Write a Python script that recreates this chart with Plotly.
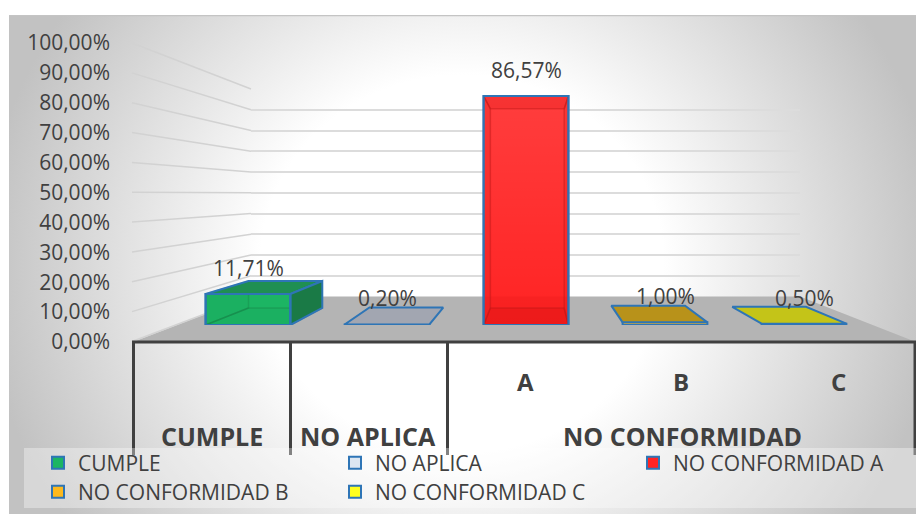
import plotly.graph_objects as go

# ---------- data ----------
categories = ["CUMPLE", "NO APLICA", "NO CONFORMIDAD A", "NO CONFORMIDAD B", "NO CONFORMIDAD C"]
values = [11.71, 0.20, 86.57, 1.00, 0.50]
tick_values = [0, 10, 20, 30, 40, 50, 60, 70, 80, 90, 100]
sub_labels = ["A", "B", "C"]
group_labels = ["CUMPLE", "NO APLICA", "NO CONFORMIDAD"]

# ---------- styles ----------
legend_colors = ["#1cb563", "#dce6f1", "#ff2323", "#fdb91d", "#ffff1e"]
EDGE = "#2e75b6"
TEXT = "#404040"
FONT = "Open Sans"
W, H = 916, 514
fx = lambda p: p / W
fy = lambda p: 1 - p / H
pct = lambda v: f"{v:.2f}%".replace(".", ",")

fig = go.Figure()

# --- subplot 1: page-pixel frame of the 3-D chart (wall, floor, frame lines)
fig.add_trace(go.Scatter(
    x=[462 - 480, 462 + 480, 462 + 480, 462 - 480, 462 - 480],
    y=[264 - 450, 264 - 450, 264 + 450, 264 + 450, 264 - 450],
    mode="none", fill="toself", showlegend=False, hoverinfo="skip",
    fillgradient=dict(type="radial", colorscale=[[0, "#ffffff"], [0.42, "#ffffff"], [1, "#c2c2c2"]]),
    xaxis="x", yaxis="y"))
fig.add_trace(go.Scatter(x=[9, 916], y=[15.5, 15.5], mode="lines", line=dict(color="#c4c4c4", width=1.5),
                         showlegend=False, hoverinfo="skip", xaxis="x", yaxis="y"))
fig.add_trace(go.Scatter(
    x=[133, 251, 800, 916, 133], y=[342, 296.5, 296.5, 342, 342],
    mode="none", fill="toself", fillcolor="#b4b4b4",
    showlegend=False, hoverinfo="skip", xaxis="x", yaxis="y"))

side_x, side_y = [], []
for v in tick_values:
    side_x += [132, 251, None]
    side_y += [341.5 - 2.985 * v, 296.5 - 2.075 * v, None]
fig.add_trace(go.Scatter(x=side_x, y=side_y, mode="lines", line=dict(color="#d2d2d2", width=1.5),
                         showlegend=False, hoverinfo="skip", xaxis="x", yaxis="y"))
fig.add_trace(go.Scatter(
    x=[132, 916, None, 133.5, 133.5, None, 290.5, 290.5, None, 447.5, 447.5, None, 915, 915],
    y=[342, 342, None, 342, 455, None, 342, 455, None, 342, 455, None, 342, 455],
    mode="lines", line=dict(color="#404040", width=3),
    showlegend=False, hoverinfo="skip", xaxis="x", yaxis="y"))
fig.add_trace(go.Scatter(
    x=[24, 916, 916, 24, 24], y=[448, 448, 508, 508, 448],
    mode="none", fill="toself", fillcolor="rgba(255,255,255,0.35)",
    showlegend=False, hoverinfo="skip", xaxis="x", yaxis="y"))

# --- subplot 2: back wall gridlines
fig.add_trace(go.Scatter(x=[0, 1], y=[0, 100], mode="lines", line=dict(color="rgba(0,0,0,0)"),
                         showlegend=False, hoverinfo="skip", xaxis="x2", yaxis="y2"))
# --- subplot 3: value tick labels on the front edge of the side wall
fig.add_trace(go.Scatter(x=[0, 1], y=[0, 100], mode="lines", line=dict(color="rgba(0,0,0,0)"),
                         showlegend=False, hoverinfo="skip", xaxis="x3", yaxis="y3"))

# --- subplot 4: bars (front faces) and their projected 3-D faces
BAR_W = 0.61
K, VX, VY = 0.87, 2.07, 49.5
PX_PER_UNIT = 2.645
FLOOR_BACK = (325 - 296.5) / PX_PER_UNIT  # height on the bar scale where the floor's back edge shows through
back = lambda x, y: (VX + (x - VX) * K, VY + (y - VY) * K)

for i, (name, v, col) in enumerate(zip(categories, values, legend_colors)):
    fig.add_trace(go.Bar(
        x=[i], y=[v], name=name, width=BAR_W, marker=dict(color=col, line=dict(color=EDGE, width=2)),
        legend="legend" if i == 0 else f"legend{i + 1}", showlegend=True, hoverinfo="skip",
        xaxis="x4", yaxis="y4"))


def face(points, fill, line, width=2, gradient=None):
    xs = [p[0] for p in points] + [points[0][0]]
    ys = [p[1] for p in points] + [points[0][1]]
    extra = dict(fillgradient=gradient) if gradient else dict(fillcolor=fill)
    fig.add_trace(go.Scatter(x=xs, y=ys, mode="lines", fill="toself", line=dict(color=line, width=width),
                             showlegend=False, hoverinfo="skip", xaxis="x4", yaxis="y4", **extra))


top_fill = ["#1f8f52", "rgba(160,164,176,0.9)", "rgba(225,30,30,0.30)", "#b8921a", "#c4c418"]
side_fill = ["#1a7a46", None, "rgba(225,30,30,0.22)", None, None]
floor_fill = ["rgba(20,110,60,0.06)", None, "rgba(205,10,10,0.25)", None, None]
inner_line = ["rgba(20,110,60,0.28)", None, "rgba(190,25,25,0.45)", None, None]
sheen = [None, None, [[0, "rgba(255,255,255,0)"], [1, "rgba(255,255,255,0.12)"]], None, None]

for i, v in enumerate(values):
    xl, xr = i - BAR_W / 2, i + BAR_W / 2
    F = [(xl, 0), (xr, 0), (xr, v), (xl, v)]
    B = [back(*p) for p in F]
    if side_fill[i] is None:  # nearly flat column: only its top is seen
        face([F[3], F[2], B[2], B[3]], top_fill[i], EDGE)
        continue
    inner = inner_line[i]
    if sheen[i]:
        face(F, None, "rgba(0,0,0,0)", 0, gradient=dict(type="vertical", colorscale=sheen[i]))
        face([F[0], F[1], (xr, FLOOR_BACK), (xl, FLOOR_BACK)], "rgba(190,0,0,0.10)", "rgba(0,0,0,0)", 0)
    face([F[0], F[1], B[1], B[0]], floor_fill[i], inner, 1.5)
    face([F[0], F[3], B[3], B[0]], floor_fill[i] if i == 0 else side_fill[i], inner, 1.5)
    if i == 0:
        face([F[3], F[2], B[2], B[3]], top_fill[i], EDGE)
        face([F[1], F[2], B[2], B[1]], side_fill[i], EDGE)
    else:
        face([F[1], F[2], B[2], B[1]], side_fill[i], inner, 1.5)
        face([F[3], F[2], B[2], B[3]], top_fill[i], inner, 1.5)
    fig.add_trace(go.Scatter(x=[p[0] for p in F] + [xl], y=[p[1] for p in F] + [0], mode="lines",
                             line=dict(color=EDGE, width=2), showlegend=False, hoverinfo="skip",
                             xaxis="x4", yaxis="y4"))

annotations = []
for i, v in enumerate(values):
    annotations.append(dict(x=i, y=v, xref="x4", yref="y4", yshift=26, showarrow=False,
                            xanchor="center", yanchor="middle", text=pct(v),
                            font=dict(family=FONT, size=21, color=TEXT)))
for label, px in zip(sub_labels, [525, 681, 838]):
    annotations.append(dict(x=fx(px), y=fy(381), xref="paper", yref="paper", showarrow=False,
                            xanchor="center", yanchor="middle", text=f"<b>{label}</b>",
                            font=dict(family=FONT, size=24, color=TEXT)))
for label, px in zip(group_labels, [212, 368, 682]):
    annotations.append(dict(x=fx(px), y=fy(436), xref="paper", yref="paper", showarrow=False,
                            xanchor="center", yanchor="middle", text=f"<b>{label}</b>",
                            font=dict(family=FONT, size=25, color=TEXT)))

hidden = dict(visible=False, fixedrange=True)
legend_pos = [(38, 463), (335, 463), (633, 463), (38, 492), (335, 492)]
legends = {}
for i, (lx, ly) in enumerate(legend_pos):
    legends["legend" if i == 0 else f"legend{i + 1}"] = dict(
        x=fx(lx), y=fy(ly), xanchor="left", yanchor="middle", bgcolor="rgba(0,0,0,0)",
        font=dict(family=FONT, size=21, color=TEXT), itemclick=False, itemdoubleclick=False)

fig.update_layout(
    width=W, height=H, autosize=False, margin=dict(l=0, r=0, t=0, b=0, pad=0, autoexpand=False),
    paper_bgcolor="#ffffff", plot_bgcolor="rgba(0,0,0,0)",
    barmode="overlay", annotations=annotations,
    xaxis=dict(domain=[fx(9), 1], range=[9, 916], anchor="y", **hidden),
    yaxis=dict(domain=[0, fy(15)], range=[514, 15], anchor="x", **hidden),
    xaxis2=dict(domain=[fx(251), fx(800)], range=[0, 1], anchor="y2", **hidden),
    yaxis2=dict(domain=[fy(296.5), fy(89)], range=[0, 100], anchor="x2", tickvals=tick_values,
                showgrid=True, gridcolor="#dcdcdc", gridwidth=1.5, zeroline=False,
                showticklabels=False, ticks="", showline=False, fixedrange=True),
    xaxis3=dict(domain=[fx(111), fx(127)], range=[0, 1], anchor="y3", **hidden),
    yaxis3=dict(domain=[fy(342), fy(43)], range=[0, 100], anchor="x3", tickmode="array",
                tickvals=tick_values, ticktext=[pct(v) for v in tick_values],
                showgrid=False, zeroline=False, showline=False,
                ticks="", tickfont=dict(family=FONT, size=21, color=TEXT), fixedrange=True),
    xaxis4=dict(domain=[fx(178.5), fx(873.5)], range=[-0.5, 4.5], anchor="y4", **hidden),
    yaxis4=dict(domain=[fy(325), fy(43)], range=[0, 282 / PX_PER_UNIT], anchor="x4", **hidden),
    **legends,
)

fig.write_html("out.html", config=dict(displayModeBar=False),
               post_script="document.body.style.margin='0';")
